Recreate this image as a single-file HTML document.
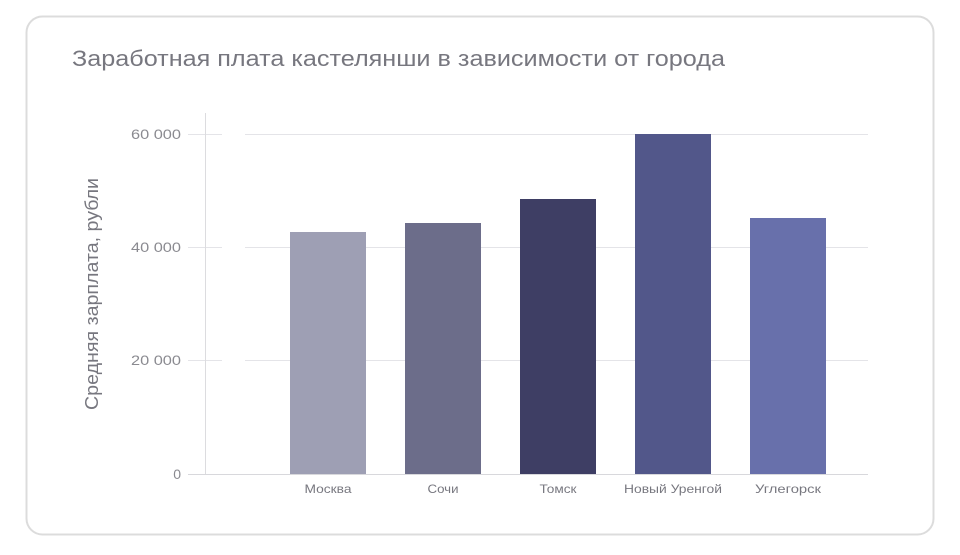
<!DOCTYPE html>
<html><head><meta charset="utf-8"><style>
body{margin:0;background:#fff;width:960px;height:550px;overflow:hidden;font-family:"Liberation Sans",sans-serif}
</style></head><body>
<svg width="960" height="550" xmlns="http://www.w3.org/2000/svg">
<rect x="26.5" y="16.5" width="907" height="518" rx="16" fill="#fff" stroke="#dcdcdc" stroke-width="2"/>
<text x="72" y="66" font-size="22" fill="#77777f" textLength="653" lengthAdjust="spacingAndGlyphs">Заработная плата кастелянши в зависимости от города</text>
<g stroke="#e4e4e8" stroke-width="1">
<line x1="188" y1="134.5" x2="222" y2="134.5"/><line x1="245" y1="134.5" x2="868" y2="134.5"/>
<line x1="188" y1="247.5" x2="222" y2="247.5"/><line x1="245" y1="247.5" x2="868" y2="247.5"/>
<line x1="188" y1="360.5" x2="222" y2="360.5"/><line x1="245" y1="360.5" x2="868" y2="360.5"/>
<line x1="188" y1="474.5" x2="868" y2="474.5" stroke="#d8d8dc"/>
<line x1="205.5" y1="113" x2="205.5" y2="474" stroke="#dcdcdf"/>
</g>
<g font-size="14" fill="#8a8a90" text-anchor="end">
<text x="181" y="139" textLength="50" lengthAdjust="spacingAndGlyphs">60 000</text><text x="181" y="252" textLength="50" lengthAdjust="spacingAndGlyphs">40 000</text><text x="181" y="365" textLength="50" lengthAdjust="spacingAndGlyphs">20 000</text><text x="181" y="479">0</text>
</g>
<text transform="translate(98,294) rotate(-90)" font-size="18" fill="#77777f" text-anchor="middle" textLength="232" lengthAdjust="spacingAndGlyphs">Средняя зарплата, рубли</text>
<rect x="290" y="232" width="76" height="242" fill="#9e9fb4"/>
<rect x="405" y="223" width="76" height="251" fill="#6c6d8a"/>
<rect x="520" y="199" width="76" height="275" fill="#3e3e64"/>
<rect x="635" y="134" width="76" height="340" fill="#52578a"/>
<rect x="750" y="218" width="76" height="256" fill="#6870ab"/>
<g font-size="12" fill="#77777f" text-anchor="middle">
<text x="328" y="493" textLength="47" lengthAdjust="spacingAndGlyphs">Москва</text><text x="443" y="493" textLength="31" lengthAdjust="spacingAndGlyphs">Сочи</text><text x="558" y="493" textLength="37" lengthAdjust="spacingAndGlyphs">Томск</text><text x="673" y="493" textLength="98" lengthAdjust="spacingAndGlyphs">Новый Уренгой</text><text x="788" y="493" textLength="66" lengthAdjust="spacingAndGlyphs">Углегорск</text>
</g>
</svg>
</body></html>
